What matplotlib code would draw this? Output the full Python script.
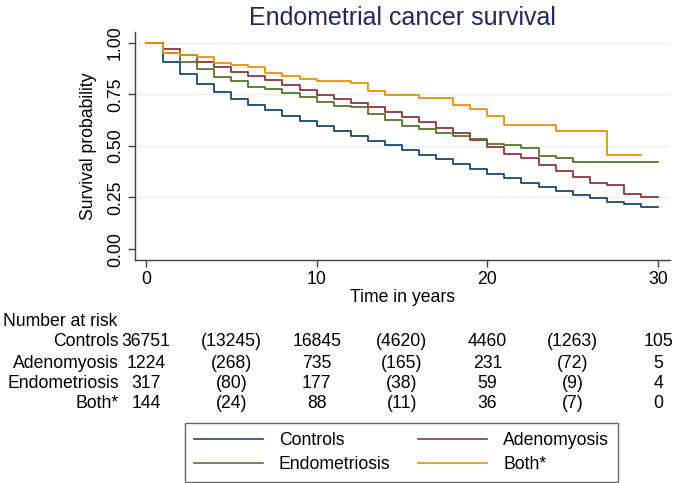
import numpy as np
import matplotlib
matplotlib.use("Agg")
import matplotlib.pyplot as plt
from matplotlib.transforms import blended_transform_factory

plt.rcParams['font.family'] = ['Liberation Sans', 'DejaVu Sans']

# yearly Kaplan-Meier estimates
years = list(range(31))
controls = [1.0, 0.908, 0.849, 0.802, 0.762, 0.729, 0.700, 0.672, 0.647, 0.622, 0.598,
            0.572, 0.549, 0.525, 0.502, 0.481, 0.457, 0.436, 0.413, 0.387, 0.364,
            0.342, 0.319, 0.300, 0.282, 0.264, 0.246, 0.228, 0.216, 0.206, 0.206]
adenomyosis = [1.0, 0.972, 0.940, 0.908, 0.881, 0.860, 0.840, 0.818, 0.796, 0.770, 0.745,
               0.726, 0.708, 0.687, 0.663, 0.640, 0.614, 0.587, 0.562, 0.530, 0.494,
               0.462, 0.442, 0.408, 0.379, 0.349, 0.322, 0.311, 0.267, 0.254, 0.254]
endometriosis = [1.0, 0.951, 0.908, 0.874, 0.833, 0.815, 0.786, 0.776, 0.754, 0.737, 0.715,
                 0.695, 0.689, 0.655, 0.624, 0.598, 0.583, 0.561, 0.546, 0.533, 0.510,
                 0.502, 0.492, 0.452, 0.439, 0.420, 0.420, 0.420, 0.420, 0.420, 0.420]
both_years = list(range(30))
both = [1.0, 0.951, 0.942, 0.929, 0.904, 0.890, 0.881, 0.851, 0.841, 0.825, 0.813,
        0.813, 0.805, 0.768, 0.745, 0.745, 0.732, 0.732, 0.700, 0.681, 0.643,
        0.603, 0.603, 0.603, 0.574, 0.574, 0.574, 0.457, 0.457, 0.457]

# number at risk table
risk_times = [0, 5, 10, 15, 20, 25, 30]
risk_groups = ["Controls", "Adenomyosis", "Endometriosis", "Both*"]
risk_counts = [
    ["36751", "(13245)", "16845", "(4620)", "4460", "(1263)", "105"],
    ["1224", "(268)", "735", "(165)", "231", "(72)", "5"],
    ["317", "(80)", "177", "(38)", "59", "(9)", "4"],
    ["144", "(24)", "88", "(11)", "36", "(7)", "0"],
]

colors = ['#1a476f', '#90353b', '#55752f', '#e8900c']
fs = 12.7

W, H = 673, 483
fig = plt.figure(figsize=(W / 100, H / 100), dpi=100)
ax = fig.add_axes([135 / W, 1 - 260 / H, (670 - 135) / W, (260 - 32) / H])

series = [(years, controls), (years, adenomyosis), (years, endometriosis), (both_years, both)]
lines = []
for (t, s), c, lab in zip(series, colors, risk_groups):
    ln, = ax.step(t, s, where='post', color=c, lw=1.3, label=lab)
    lines.append(ln)

ax.set_xlim(-0.64, 30.7)
ax.set_ylim(-0.053, 1.052)
ax.set_xticks([0, 10, 20, 30])
ax.set_yticks([0, 0.25, 0.5, 0.75, 1.0])
ax.set_yticklabels(["0.00", "0.25", "0.50", "0.75", "1.00"], rotation=90, va='center')
for g in [0.25, 0.5, 0.75, 1.0]:
    ax.axhline(g, color='#e6eff1', lw=1.0, zorder=0)
for sp in ['top', 'right']:
    ax.spines[sp].set_visible(False)
for sp in ['left', 'bottom']:
    ax.spines[sp].set_color('#404040')
    ax.spines[sp].set_linewidth(1.0)
ax.tick_params(axis='both', direction='out', length=5, width=1.0, color='#404040',
               labelsize=fs, pad=3)
ax.set_xlabel("Time in years", fontsize=fs, labelpad=1)
ax.set_ylabel("Survival probability", fontsize=fs, labelpad=7)
ax.set_title("Endometrial cancer survival", fontsize=18, color='#1f2a5a', pad=5)

# number at risk
tr = blended_transform_factory(ax.transData, fig.transFigure)
fig.text(3 / W, 1 - 322 / H, "Number at risk", fontsize=fs, va='center', ha='left')
row_y = [342, 363, 384, 404]
for grp, counts, yy in zip(risk_groups, risk_counts, row_y):
    fig.text(119 / W, 1 - yy / H, grp, fontsize=fs, va='center', ha='right')
    for t, n in zip(risk_times, counts):
        ax.text(t, 1 - yy / H, n, transform=tr, fontsize=fs, va='center', ha='center',
                clip_on=False)

# legend: two columns, filled column-wise
order = [0, 2, 1, 3]
leg = fig.legend([lines[i] for i in order], [risk_groups[i] for i in order],
                 loc='center', bbox_to_anchor=(401.5 / W, 1 - 452.5 / H), ncol=2,
                 fontsize=fs, handlelength=3.9, columnspacing=1.6, handletextpad=0.9,
                 frameon=True, fancybox=False, borderpad=0.5, labelspacing=0.4)
leg.get_frame().set_edgecolor('#404040')
leg.get_frame().set_linewidth(1.0)
for h in leg.get_lines():
    h.set_linewidth(1.2)

fig.savefig("out.png", dpi=100)
